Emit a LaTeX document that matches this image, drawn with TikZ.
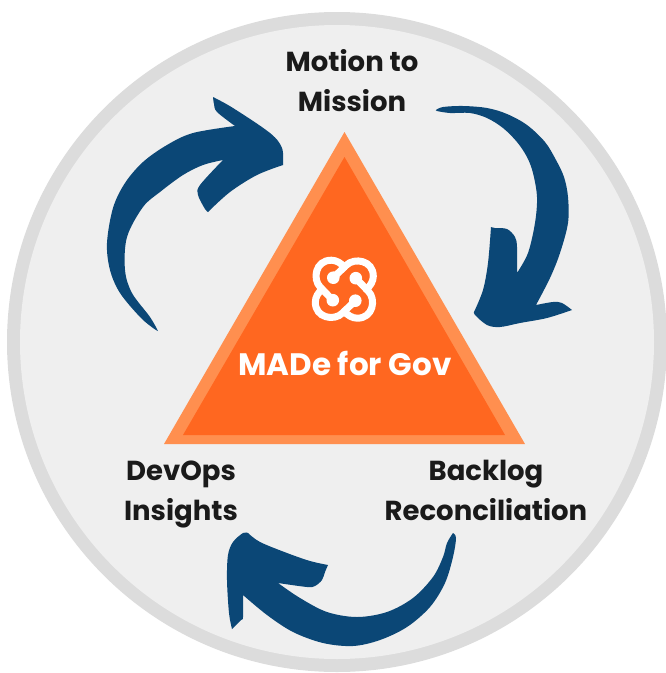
\documentclass[tikz,border=0pt]{standalone}
\usepackage{fontspec}
\setmainfont{Poppins}
\definecolor{ringgray}{HTML}{DCDCDC}
\definecolor{discgray}{HTML}{EFEFEF}
\definecolor{triouter}{HTML}{FF8F4F}
\definecolor{triinner}{HTML}{FF6720}
\definecolor{arrowblue}{HTML}{0B4776}
\definecolor{labeldark}{HTML}{1A1A1A}
\tikzset{
    steplabel/.style={text=labeldark, font=\fontsize{27.5}{40}\selectfont\bfseries, align=center},
    arrowshape/.style={fill=arrowblue},
    logoline/.style={draw=white, line width=7pt, line cap=round},
    edgecurve/.style={smooth, tension=0.55}
}
\begin{document}
\begin{tikzpicture}[x=1pt, y=-1pt]
    \useasboundingbox (0,0) rectangle (665,673);
    \fill[ringgray] (337,342) circle (330);
    \fill[discgray] (337,342) circle (317);
    % triangle
    \fill[triouter] (344.5,132) -- (525,444) -- (164,444) -- cycle;
    \fill[triinner] (344.5,157) -- (505,435) -- (183,435) -- cycle;
    % logo
    \foreach \r in {0,90,180,270} {
        \begin{scope}[shift={(344.3,289.2)}, rotate=\r]
            \draw[logoline] (-11.5,11) -- (-24,-2) .. controls (-32,-10) and (-29,-29) .. (-13,-29) .. controls (-8,-29) and (-3,-26) .. (0,-22);
            \fill[white] (-11.5,11) circle (6.3);
        \end{scope}
    }
    % left arrow
    \fill[arrowshape] plot[edgecurve] coordinates {(158,331) (153,328) (140,317) (120,293) (110,270) (107,243) (113,208) (125,183) (143,162) (167,145) (193,133) (235,126)}
        -- plot[edgecurve] coordinates {(235,126) (217,112) (214,104) (213,97)}
        -- plot[edgecurve] coordinates {(213,97) (233,108) (270,133) (282,148) (283,165)}
        -- plot[edgecurve] coordinates {(283,165) (257,175) (230,192) (208,212)}
        -- plot[edgecurve] coordinates {(208,212) (205,209) (198,195) (200,185) (223,160)}
        -- plot[edgecurve] coordinates {(223,160) (203,165) (183,175) (160,192) (143,207) (127,237) (125,270) (132,293) (150,317) (158,331)} -- cycle;
    % right arrow
    \fill[arrowshape] plot[edgecurve] coordinates {(436,110) (443,107) (463,106) (487,108) (507,114) (527,125) (545,142) (556,160) (564,177) (568,197) (568,223) (560,253) (550,278) (536,305)}
        -- plot[edgecurve] coordinates {(536,305) (553,302) (562,303) (572,310)}
        -- plot[edgecurve] coordinates {(572,310) (547,318) (520,323) (500,327) (487,325) (475,315) (474,312)}
        -- plot[edgecurve] coordinates {(474,312) (483,290) (488,263) (491,227)}
        -- plot[edgecurve] coordinates {(491,227) (495,228) (507,229) (515,237) (517,247) (517,273)}
        -- plot[edgecurve] coordinates {(517,273) (528,253) (535,223) (537,197) (533,173) (527,157) (517,142) (503,128) (487,118) (470,113) (450,113) (437,111) (436,110)} -- cycle;
    % bottom arrow
    \fill[arrowshape] plot[edgecurve] coordinates {(453,533) (456,538) (453,557) (445,583) (430,607) (407,627) (380,640) (353,646) (323,643) (293,632) (267,615) (243,595)}
        -- plot[edgecurve] coordinates {(243,595) (243,617) (241,620) (232,629)}
        -- plot[edgecurve] coordinates {(232,629) (229,613) (227,580) (228,555) (233,542) (243,533) (248,533)}
        -- plot[edgecurve] coordinates {(248,533) (260,542) (287,553) (310,561) (328,565)}
        -- plot[edgecurve] coordinates {(328,565) (325,572) (322,580) (315,586) (307,587) (278,583)}
        -- plot[edgecurve] coordinates {(278,583) (300,598) (327,612) (357,617) (387,612) (413,598) (433,577) (443,557) (447,543) (453,533)} -- cycle;
    % labels
    \node[steplabel] (motion) at (352,81) {Motion to\\Mission};
    \node[steplabel] (devops) at (181,494) {DevOps\\Insights};
    \node[steplabel] (backlog) at (486,490) {Backlog\\Reconciliation};
    \node[text=white, font=\fontsize{31}{36}\selectfont\bfseries] (made) at (345,363) {MADe for Gov};
\end{tikzpicture}
\end{document}
